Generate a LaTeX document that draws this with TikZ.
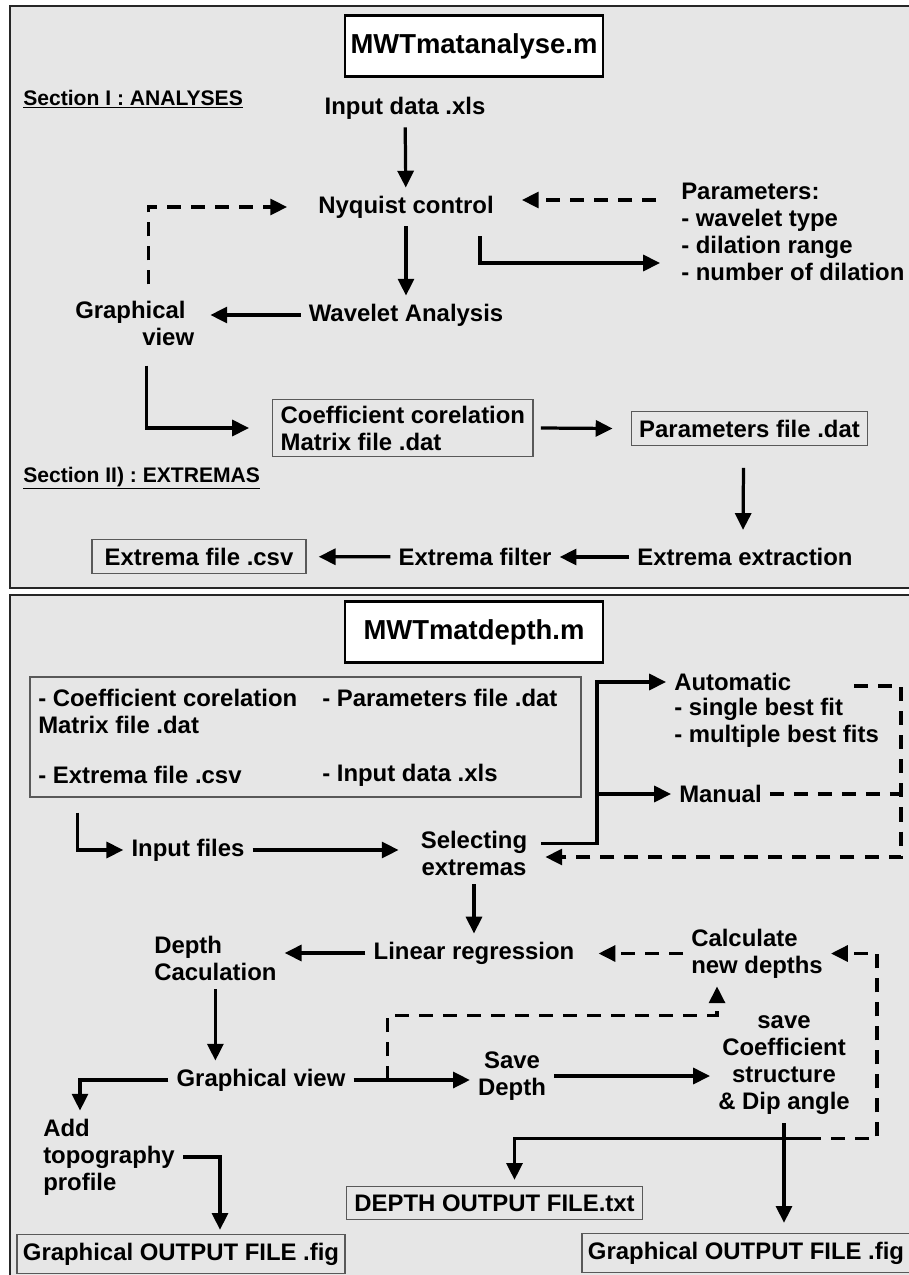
\documentclass[tikz,border=0pt]{standalone}
\usepackage{fontspec}
\setmainfont{Liberation Sans}
\usetikzlibrary{arrows.meta, positioning, calc}
\definecolor{panelgray}{HTML}{E6E6E6}

\begin{document}
\begin{tikzpicture}[
  x=0.025cm, y=-0.025cm,
  every node/.style={align=center},
  lbl/.style={font=\fontsize{17}{19.2}\selectfont\bfseries, inner sep=0.2cm},
  seclabel/.style={font=\fontsize{15}{17}\selectfont\bfseries, inner sep=0, anchor=west},
  scriptbox/.style={draw, line width=1.8pt, fill=white, minimum width=6.45cm, minimum height=1.525cm, font=\fontsize{19.5}{22}\selectfont\bfseries},
  filebox/.style={lbl, draw=black!65, line width=1pt},
  panel/.style={draw=black!85, line width=2pt, fill=panelgray},
  arrow/.style={-{Triangle[length=0.42cm, width=0.4cm]}, line width=2.3pt},
  dasharrow/.style={arrow, dash pattern=on 0.35cm off 0.25cm},
  dashline/.style={line width=2.3pt, dash pattern=on 0.35cm off 0.25cm}
]
\useasboundingbox (0,0) rectangle (908,1275);

% Panels
\draw[panel] (10,6) rectangle (920,588);
\draw[panel] (10,595) rectangle (920,1290);

% Section I : analyses
\node[scriptbox] (analyse) at (474,46) {MWTmatanalyse.m};
\node[seclabel] (sec1) at (23,99) {\underline{Section I : ANALYSES}};
\node[lbl] (input) at (405,108) {Input data .xls};
\node[lbl] (nyquist) at (406,207) {Nyquist control};
\node[lbl] (wavelet) at (406,315) {Wavelet Analysis};
\node[lbl, align=left, anchor=west] (params) at (673,232) {Parameters:\\- wavelet type\\- dilation range\\- number of dilation};
\node[lbl, align=left, anchor=west] (view1) at (67,323) {Graphical\\\hspace*{1.675cm}view};
\node[filebox, align=left, anchor=west, inner ysep=0.15cm] (coefmat) at (272,428) {Coefficient corelation\\Matrix file .dat};
\node[filebox] (paramfile) at (749.5,428.5) {Parameters file .dat};

% Section II : extremas
\node[seclabel] (sec2) at (23,478) {\underline{Section II) : EXTREMAS}};
\node[lbl] (extraction) at (745,557) {Extrema extraction};
\node[lbl] (filter) at (475,557) {Extrema filter};
\node[filebox, minimum width=5.35cm] (extremafile) at (199,556.5) {Extrema file .csv};

\draw[arrow] (input) -- (nyquist);
\draw[arrow] (nyquist) -- (wavelet);
\draw[dasharrow] ($(params.west)+(-17,-32)$) -- ($(nyquist.east)+(20,-7)$);
\draw[arrow] ($(nyquist.south)+(74,10)$) |- ($(params.west)+(-13,31)$);
\draw[arrow, shorten >=0.2cm] (wavelet) -- (wavelet -| view1.east);
\draw[dasharrow] ($(view1.north)+(14,-8)$) |- ($(nyquist.west)+(-23,0)$);
\draw[arrow] ($(view1.south)+(12,12)$) |- ($(coefmat.west)+(-23,0)$);
\draw[arrow] ($(coefmat.east)+(7,0)$) -- ($(paramfile.west)+(-18,0)$);
\draw[arrow] ($(paramfile.south)+(-6,22)$) -- ($(extraction.north)+(-2,-10)$);
\draw[arrow] (extraction) -- (filter);
\draw[arrow, shorten >=0.3cm] (filter) -- (extremafile);

% MWTmatdepth
\node[scriptbox] (depthm) at (474,632) {MWTmatdepth.m};
\node[draw=black!65, line width=1pt, minimum width=13.775cm, minimum height=3cm] (inputs) at (305.5,737) {};
\node[lbl, inner sep=0, anchor=west] (incoef) at (38,698) {- Coefficient corelation};
\node[lbl, inner sep=0, anchor=west] (inmatrix) at (38,725) {Matrix file .dat};
\node[lbl, inner sep=0, anchor=west] (inextrema) at (38,775) {- Extrema file .csv};
\node[lbl, inner sep=0, anchor=west] (inparam) at (322,698) {- Parameters file .dat};
\node[lbl, inner sep=0, anchor=west] (indata) at (322,775) {- Input data .xls};

\node[lbl] (infiles) at (188,850) {Input files};
\node[lbl] (selecting) at (474,853.5) {Selecting\\extremas};
\node[lbl, anchor=west] (automatic) at (666,682) {Automatic};
\node[lbl, align=left, anchor=west] (fits) at (666,723) {- single best fit\\- multiple best fits};
\node[lbl, anchor=west] (manual) at (671,794) {Manual};
\node[lbl] (linreg) at (474,953) {Linear regression};
\node[lbl, align=left, anchor=west] (depthcalc) at (146,958.5) {Depth\\Caculation};
\node[lbl, align=left, anchor=west] (newdepths) at (683,953.5) {Calculate\\new depths};
\node[lbl] (view2) at (261,1080) {Graphical view};
\node[lbl] (savedepth) at (512,1076) {Save\\Depth};
\node[lbl] (savecoef) at (784,1065.5) {save\\Coefficient\\structure\\\& Dip angle};
\node[lbl, align=left, anchor=west] (topo) at (35,1157) {Add\\topography\\profile};
\node[filebox] (depthout) at (494.5,1203) {DEPTH OUTPUT FILE.txt};
\node[filebox, minimum width=8.2cm, minimum height=0.975cm, inner sep=0.12cm] (figleft) at (181,1254) {Graphical OUTPUT FILE .fig};
\node[filebox, minimum width=8.2cm, minimum height=0.975cm, inner sep=0.12cm] (figright) at (746,1253) {Graphical OUTPUT FILE .fig};

\coordinate (fork) at (597,794);
\coordinate (loop) at (901,857);

\draw[arrow] ($(inputs.south west)+(48,15)$) |- (infiles.west);
\draw[arrow, shorten >=0.35cm] (infiles.east) -- (infiles.east -| selecting.west);
\draw[arrow] ($(selecting.east)+(6,-10)$) -| (fork |- automatic.west) -- (automatic.west);
\draw[arrow] (fork) -- (manual.west);
\draw[dasharrow, shorten >=0.25cm] ($(automatic.east)+(55,4)$) -| (loop) -- (loop -| selecting.east);
\draw[dashline] (manual.east) -- (manual.east -| loop);
\draw[arrow] (selecting) -- (linreg);
\draw[arrow] (linreg) -- (linreg -| depthcalc.east);
\draw[arrow] (depthcalc.south) -- (depthcalc.south |- view2.north);
\draw[arrow] (view2.west) -| ($(topo.north west)+(45,0)$);
\draw[arrow] (topo.east) -| ($(figleft.north)+(39,-4)$);
\draw[arrow] (view2.east) -- (view2.east -| savedepth.west);
\draw[dasharrow] ($(view2.east)+(34,0)$) |- ($(newdepths.south)+(-40,29)$) -- ($(newdepths.south)+(-40,0)$);
\draw[dasharrow, shorten >=0.4cm] (newdepths.west) -- (newdepths.west -| linreg.east);
\draw[arrow] (savedepth.east) -- (savedepth.east -| savecoef.west);
\draw[arrow] (savecoef.south) -- ($(savecoef.south |- figright.north)+(0,-10)$);
\draw[arrow] ($(savecoef.south)+(23,15)$) -| ($(depthout.north)+(20,-6)$);
\draw[dasharrow] ($(savecoef.south)+(23,15)$) -| ($(newdepths.east)+(46,0)$) -- (newdepths.east);

\end{tikzpicture}
\end{document}
